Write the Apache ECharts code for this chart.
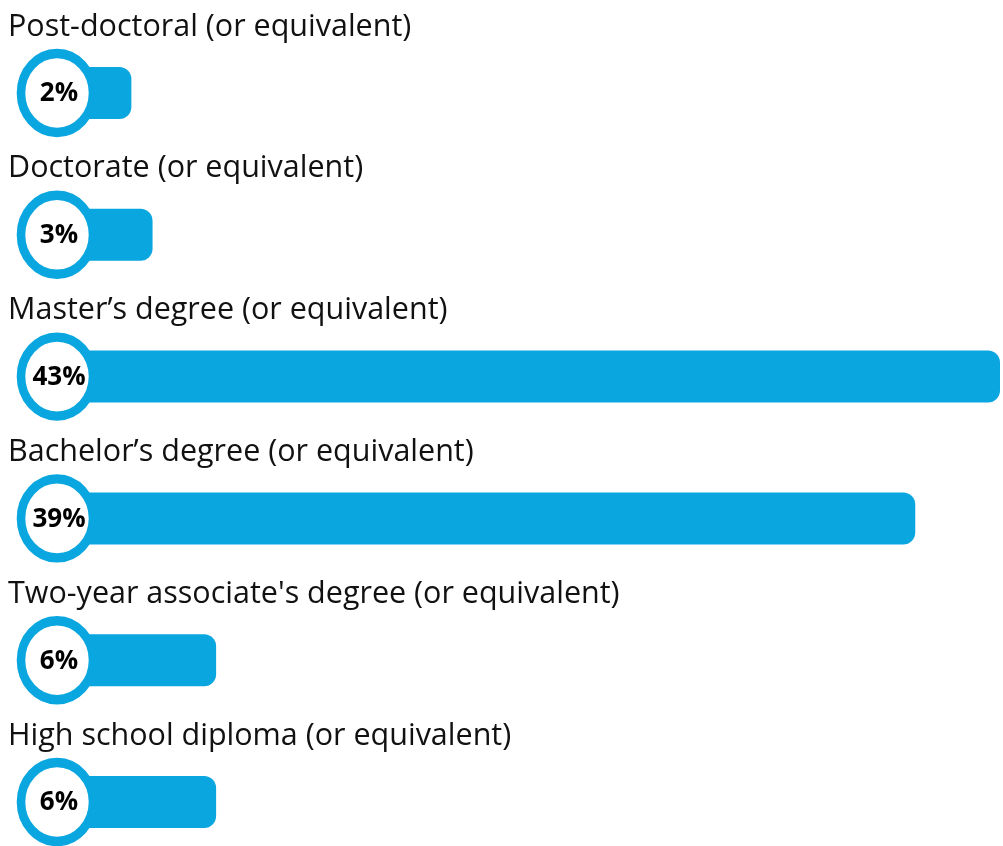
<!DOCTYPE html>
<html>
<head>
<meta charset="utf-8">
<script src="https://cdn.jsdelivr.net/npm/echarts@6/dist/echarts.min.js"></script>
<style>
html,body{margin:0;padding:0;background:#fff;}
#chart{width:1003px;height:846px;}
</style>
</head>
<body>
<div id="chart"></div>
<script>
const categories = [
  "Post-doctoral (or equivalent)",
  "Doctorate (or equivalent)",
  "Master\u2019s degree (or equivalent)",
  "Bachelor\u2019s degree (or equivalent)",
  "Two-year associate's degree (or equivalent)",
  "High school diploma (or equivalent)"
];
const values = [2, 3, 43, 39, 6, 6];

const BLUE = '#09a6df';
const chart = echarts.init(document.getElementById('chart'));
chart.setOption({
  animation: false,
  grid: { left: 89, right: 3, top: 93, bottom: 44, containLabel: false },
  xAxis: { type: 'value', min: 0, max: 43, show: false },
  yAxis: { type: 'category', data: categories, inverse: true, boundaryGap: false, show: false },
  series: [
    {
      type: 'bar',
      data: values,
      barWidth: 52,
      itemStyle: { color: BLUE, borderRadius: [0, 12, 12, 0] },
      label: {
        show: true,
        position: [-81, -40],
        align: 'left',
        verticalAlign: 'middle',
        formatter: p => categories[p.dataIndex],
        fontFamily: 'Open Sans',
        fontSize: 30.5,
        color: '#111'
      },
      z: 2
    },
    {
      type: 'scatter',
      data: values.map((v, i) => [0, i, v]),
      symbol: 'circle',
      symbolSize: [72, 79],
      symbolOffset: [-32, 0],
      itemStyle: { color: '#fff', borderColor: BLUE, borderWidth: 9, opacity: 1 },
      label: {
        show: true,
        position: 'inside',
        offset: [2, 1],
        formatter: p => p.value[2] + '%',
        fontFamily: 'Open Sans',
        fontWeight: 'bold',
        fontSize: 26,
        color: '#000'
      },
      z: 3
    }
  ]
});
</script>
</body>
</html>
